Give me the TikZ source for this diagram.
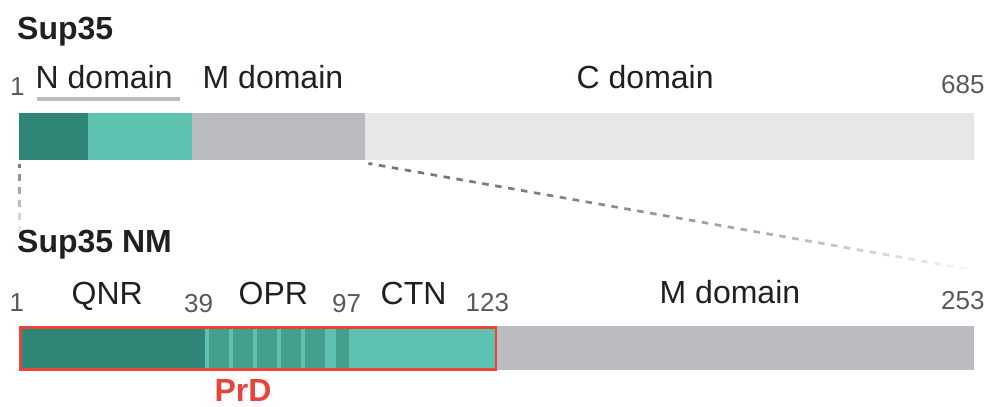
\documentclass[tikz,border=0pt]{standalone}
\usepackage{fontspec}
\setmainfont{Liberation Sans}
\usepackage{xcolor}
\usetikzlibrary{calc}
\definecolor{cqnr}{HTML}{2F8676}
\definecolor{cctn}{HTML}{5DC3B0}
\definecolor{copr}{HTML}{43A08C}
\definecolor{cmid}{HTML}{BBBCC0}
\definecolor{cterm}{HTML}{E6E7E8}
\definecolor{cprd}{HTML}{EC4239}
\definecolor{ctxt}{HTML}{231F20}
\definecolor{cnum}{HTML}{58595B}
\definecolor{cdash}{HTML}{6D6E71}

\begin{document}
\begin{tikzpicture}[x=1pt,y=-1pt,
  lab/.style={inner sep=0,anchor=base west,text=ctxt,font=\fontsize{32}{38}\selectfont},
  num/.style={inner sep=0,anchor=base west,text=cnum,font=\fontsize{26}{31}\selectfont},
  ttl/.style={inner sep=0,anchor=base west,text=ctxt,font=\bfseries\fontsize{32}{38}\selectfont}]
  \useasboundingbox (0,0) rectangle (991,407);
  % full-length protein
  \node[ttl] (sup) at (17,39) {Sup35};
  \fill[cqnr] (19,113) rectangle (88,160);
  \fill[cctn] (88,113) rectangle (192,160);
  \fill[cmid] (192,113) rectangle (365,160);
  \fill[cterm] (365,113) rectangle (974,160);
  \node[num] (a1) at (10,95) {1};
  \node[lab] (ndom) at (35.5,88) {N domain};
  \node[lab] (mdom) at (202.5,88) {M domain};
  \node[lab] (cdom) at (576.5,88) {C domain};
  \node[num] (a685) at (941,93) {685};
  \draw[cmid,line width=4] ($(ndom.base west)+(1.5,11)$) -- ($(ndom.base east)+(7,11)$);
  % zoom lines down to NM
  \coordinate (vs) at (19.5,161);
  \coordinate (zs) at (366,163);
  \coordinate (ze) at (973,270);
  \foreach \k in {0,...,5}{
    \pgfmathsetmacro\ya{max(3,13*\k)}
    \pgfmathsetmacro\yb{13*\k+7}
    \pgfmathtruncatemacro\pc{90-75*\k/5}
    \draw[cdash!\pc!white,line width=3] ($(vs)+(0,\ya)$) -- ($(vs)+(0,\yb)$);
  }
  \foreach \i in {0,...,46}{
    \pgfmathsetmacro\fa{max(0.004,\i/47)}
    \pgfmathsetmacro\fb{(\i+0.5)/47}
    \pgfmathtruncatemacro\pc{95-88*(\i/46)^2}
    \draw[cdash!\pc!white,line width=2.7] ($(zs)!\fa!(ze)$) -- ($(zs)!\fb!(ze)$);
  }
  % NM fragment
  \node[ttl] (supnm) at (17,252) {Sup35 NM};
  \fill[cqnr] (19,326) rectangle (205,370);
  \fill[cctn] (205,326) rectangle (496,370);
  \foreach \x in {209,233,...,305}
    \fill[copr] (\x,326) rectangle ++(20,44);
  \fill[copr] (336,326) rectangle (349,370);
  \fill[cmid] (496,326) rectangle (974,370);
  \draw[cprd,line width=2.6] (20.3,327.3) rectangle (496,369.7);
  \node[num] (b1) at (9.5,311) {1};
  \node[lab] (qnr) at (71.5,304) {QNR};
  \node[num] (b39) at (184,312) {39};
  \node[lab] (opr) at (238.5,304) {OPR};
  \node[num] (b97) at (332,312) {97};
  \node[lab] (ctn) at (380.5,304) {CTN};
  \node[num] (b123) at (465.5,311) {123};
  \node[lab] (mdomb) at (659.5,303) {M domain};
  \node[num] (b253) at (941,309) {253};
  \node[ttl,anchor=base,text=cprd] (prd) at (243,401) {PrD};
\end{tikzpicture}
\end{document}
